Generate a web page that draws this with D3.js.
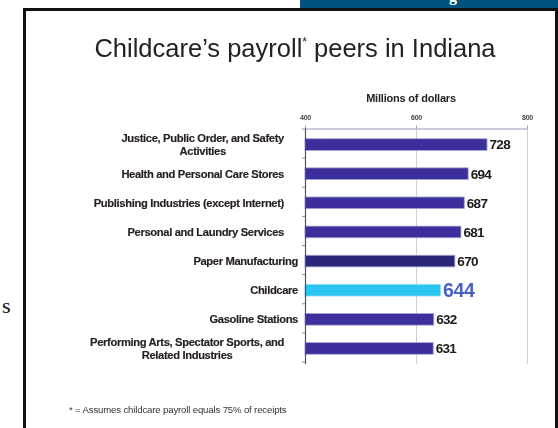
<!DOCTYPE html>
<html>
<head>
<meta charset="utf-8">
<script src="https://cdn.jsdelivr.net/npm/d3@7/dist/d3.min.js"></script>
<style>
  html, body { margin: 0; padding: 0; background: #fff; }
  svg { display: block; }
  text { font-family: "Liberation Sans", Arial, Helvetica, sans-serif; }
</style>
</head>
<body>
<svg id="chart" width="558" height="428"></svg>
<script>
// Industries with annual payroll close to childcare's, Indiana (millions of dollars)
const categories = [
  ["Justice, Public Order, and Safety", "Activities"],
  ["Health and Personal Care Stores"],
  ["Publishing Industries (except Internet)"],
  ["Personal and Laundry Services"],
  ["Paper Manufacturing"],
  ["Childcare"],
  ["Gasoline Stations"],
  ["Performing Arts, Spectator Sports, and", "Related Industries"]
];
const payroll = [728, 694, 687, 681, 670, 644, 632, 631];
const axisTicks = [400, 600, 800];
const highlight = "Childcare";
const darker = "Paper Manufacturing";

const svg = d3.select("#chart");

svg.append("defs").append("filter").attr("id", "soft")
  .append("feGaussianBlur").attr("stdDeviation", 0.4);

// page frame around the slide
svg.append("path")
  .attr("d", "M24.5,430 V9.5 H556.5 V430")
  .attr("fill", "none").attr("stroke", "#111").attr("stroke-width", 3);

// banner strip at the top right, with the tail of its heading
svg.append("rect").attr("x", 300).attr("y", 0).attr("width", 258).attr("height", 8)
  .attr("fill", "#00527f");
svg.append("text")
  .attr("x", 449).attr("y", 1).attr("fill", "#fff")
  .style("font-family", "'Liberation Serif', 'Times New Roman', serif")
  .attr("font-weight", "bold").attr("font-size", 16).text("g");

// stray letter from the surrounding page text
svg.append("text").attr("x", 2).attr("y", 313)
  .style("font-family", "'Liberation Serif', 'Times New Roman', serif")
  .attr("font-size", 22).attr("fill", "#111").text("s");

const g = svg.append("g").attr("filter", "url(#soft)");

// title
const title = g.append("text").attr("x", 295).attr("y", 57)
  .attr("text-anchor", "middle").attr("font-size", 25.5).attr("fill", "#222");
title.append("tspan").text("Childcare\u2019s payroll");
title.append("tspan").attr("font-size", 12).attr("dy", -11).text("*");
title.append("tspan").attr("dy", 11).text(" peers in Indiana");

const names = categories.map(c => c.join(" "));
const x = d3.scaleLinear().domain([400, 800]).range([305, 527]);
const y = d3.scaleBand().domain(names).range([130, 363]).paddingInner(0.6).paddingOuter(0.3);

// axis caption and ticks along the top
g.append("text").attr("x", 411).attr("y", 101.5).attr("text-anchor", "middle")
  .attr("font-size", 11).attr("font-weight", "bold").attr("fill", "#222")
  .attr("letter-spacing", -0.2)
  .text("Millions of dollars");

const topAxis = g.append("g").attr("transform", "translate(0,128.5)")
  .call(d3.axisTop(x).tickValues(axisTicks).tickSize(3).tickSizeOuter(0).tickPadding(6));
topAxis.select(".domain").attr("stroke", "#9a98bc");
topAxis.selectAll(".tick line").attr("stroke", "#9a98bc").attr("y2", 3).attr("y1", -3);
topAxis.selectAll(".tick text").attr("font-size", 7).attr("font-weight", "bold").attr("fill", "#444")
  .attr("letter-spacing", -0.3)
  .attr("font-family", "'Liberation Sans', Arial, sans-serif");

// vertical gridlines
g.selectAll(".grid").data(axisTicks.slice(1)).join("line").attr("class", "grid")
  .attr("x1", d => x(d) + 0.5).attr("x2", d => x(d) + 0.5)
  .attr("y1", 128.5).attr("y2", 364)
  .attr("stroke", "#cfcfdc").attr("stroke-width", 1);

// bars
g.selectAll(".bar").data(payroll).join("rect").attr("class", "bar")
  .attr("x", x(400))
  .attr("y", (d, i) => y(names[i]))
  .attr("width", d => x(d) - x(400))
  .attr("height", y.bandwidth())
  .attr("fill", (d, i) => names[i] === highlight ? "#2cc6ef" : names[i] === darker ? "#2c2879" : "#3a2f9d")
  .attr("stroke", (d, i) => names[i] === highlight ? "#8fdcf5" : "#a9a6d2")
  .attr("stroke-width", 0.8);

// category axis on the left with boundary ticks
const step = y.step();
g.append("line").attr("x1", 305.5).attr("x2", 305.5).attr("y1", 128.5).attr("y2", 364)
  .attr("stroke", "#4e4a98").attr("stroke-width", 1.2);
g.selectAll(".ctick").data(d3.range(names.length + 1)).join("line").attr("class", "ctick")
  .attr("x1", 302).attr("x2", 305)
  .attr("y1", i => y(names[0]) - step * 0.3 - 1 + i * step)
  .attr("y2", i => y(names[0]) - step * 0.3 - 1 + i * step)
  .attr("stroke", "#777").attr("stroke-width", 0.8);

// value labels
g.selectAll(".val").data(payroll).join("text").attr("class", "val")
  .attr("x", d => x(d) + 2.5)
  .attr("y", (d, i) => y(names[i]) + y.bandwidth() / 2)
  .attr("dy", "0.36em")
  .attr("font-weight", "bold")
  .attr("font-size", (d, i) => names[i] === highlight ? 19.5 : 13.5)
  .attr("letter-spacing", (d, i) => names[i] === highlight ? -0.3 : -0.7)
  .attr("fill", (d, i) => names[i] === highlight ? "#4a60c4" : "#1a1a1a")
  .text(d => d);

// category labels: single lines flush right, two-line labels centred as a block
const labelRight = i => (i < 4 ? 284 : 298);
categories.forEach((lines, i) => {
  const cy = y(names[i]) + y.bandwidth() / 2;
  const t = g.append("text").attr("font-size", 11.2).attr("font-weight", "bold")
    .attr("fill", "#262020").attr("letter-spacing", -0.35)
    .attr("stroke", "#262020").attr("stroke-width", 0.15);
  if (lines.length === 1) {
    t.attr("x", labelRight(i)).attr("y", cy).attr("dy", "0.35em")
      .attr("text-anchor", "end").text(lines[0]);
  } else {
    const spans = lines.map((ln, j) =>
      t.append("tspan").attr("x", 0).attr("y", cy + (j - 0.5) * 13).attr("dy", "0.35em").text(ln));
    const w = d3.max(spans, s => s.node().getComputedTextLength());
    const cx = 284 - w / 2; // widest line ends at the common right edge
    t.attr("text-anchor", "middle");
    spans.forEach(s => s.attr("x", cx));
  }
});

// footnote
g.append("text").attr("x", 69).attr("y", 413).attr("font-size", 9.6).attr("fill", "#333")
  .attr("letter-spacing", -0.15)
  .text("* = Assumes childcare payroll equals 75% of receipts");
</script>
</body>
</html>
